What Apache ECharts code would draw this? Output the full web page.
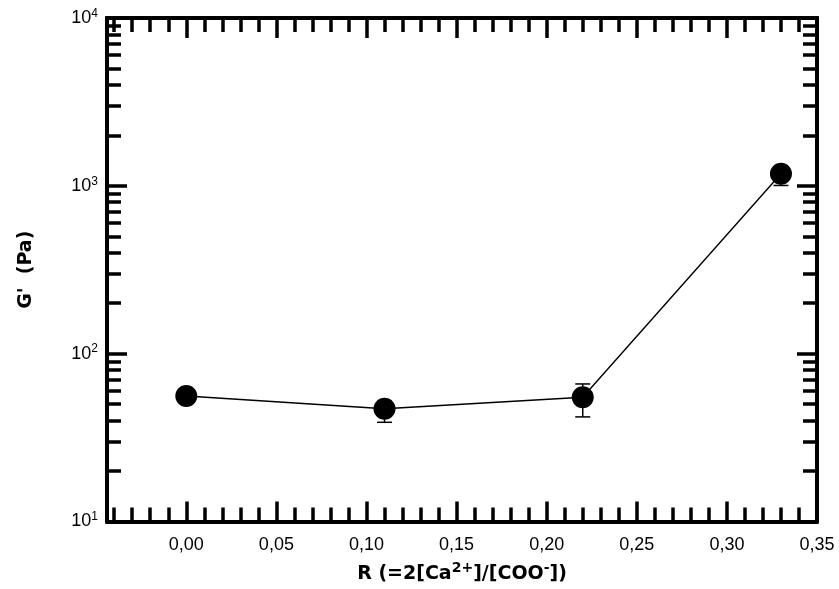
<!DOCTYPE html>
<html>
<head>
<meta charset="utf-8">
<script src="https://cdn.jsdelivr.net/npm/echarts@6/dist/echarts.min.js"></script>
<style>html,body{margin:0;padding:0;background:#fff}#c{width:839px;height:589px}</style>
</head>
<body>
<div id="c"></div>
<script>
// ---- data ----
var xValues = [0.00, 0.11, 0.22, 0.33];
var gValues = [56, 47, 55, 1180];
var errLow  = [56, 39, 42, 1005];
var errHigh = [56, 52, 66, 1290];

var xMajorTicks = [0.00, 0.05, 0.10, 0.15, 0.20, 0.25, 0.30, 0.35];
var xMinorTicks = [-0.04, -0.03, -0.02, -0.01, 0.01, 0.02, 0.03, 0.04, 0.06, 0.07, 0.08, 0.09,
                   0.11, 0.12, 0.13, 0.14, 0.16, 0.17, 0.18, 0.19, 0.21, 0.22, 0.23, 0.24,
                   0.26, 0.27, 0.28, 0.29, 0.31, 0.32, 0.33, 0.34];
var yMajorTicks = [10, 100, 1000, 10000];
var yMinorTicks = [20, 30, 40, 50, 60, 70, 80, 90,
                   200, 300, 400, 500, 600, 700, 800, 900,
                   2000, 3000, 4000, 5000, 6000, 7000, 8000, 9000];

var FONT = '"Liberation Sans", Arial, sans-serif';
var BFONT = '"DejaVu Sans", sans-serif';
var X_MIN = -0.044, X_MAX = 0.35, Y_MIN = 10, Y_MAX = 10000;

function lineStyle(w) { return { color: '#000', width: w }; }

function xAxisDef(pos, ticks, len, withLabels) {
  return {
    type: 'value', position: pos, min: X_MIN, max: X_MAX,
    axisLine: { show: true, onZero: false, lineStyle: lineStyle(4) },
    axisTick: { show: true, inside: true, length: len, customValues: ticks, lineStyle: lineStyle(3.5) },
    axisLabel: withLabels ? {
      show: true, customValues: xMajorTicks, margin: 15, color: '#000', fontFamily: FONT, fontSize: 18,
      formatter: function (v) { return v.toFixed(2).replace('.', ','); }
    } : { show: false },
    splitLine: { show: false }
  };
}
function yAxisDef(pos, ticks, len, withLabels) {
  return {
    type: 'log', logBase: 10, position: pos, min: Y_MIN, max: Y_MAX,
    axisLine: { show: true, onZero: false, lineStyle: lineStyle(4) },
    axisTick: { show: true, inside: true, length: len, customValues: ticks, lineStyle: lineStyle(3.5) },
    axisLabel: withLabels ? {
      show: true, customValues: yMajorTicks, margin: 9, color: '#000',
      formatter: function (v) { return '{a|10}{b|' + Math.round(Math.log10(v)) + '}'; },
      rich: {
        a: { fontFamily: FONT, fontSize: 18, color: '#000' },
        b: { fontFamily: FONT, fontSize: 12, color: '#000', padding: [0, 0, 9, 0] }
      }
    } : { show: false },
    splitLine: { show: false }
  };
}

var xa0 = xAxisDef('bottom', xMajorTicks, 20, true);
xa0.name = 'R (=2[Ca{s|2+}]/[COO{s|-}])';
xa0.nameLocation = 'middle';
xa0.nameGap = 40;
xa0.nameTextStyle = {
  fontFamily: BFONT, fontSize: 19, fontWeight: 'bold', color: '#000',
  rich: { s: { fontFamily: BFONT, fontSize: 14, fontWeight: 'bold', color: '#000', padding: [0, 0, 12, 0] } }
};
var ya0 = yAxisDef('left', yMajorTicks, 20, true);
ya0.name = "G'  (Pa)";
ya0.nameLocation = 'middle';
ya0.nameGap = 71;
ya0.nameTextStyle = { fontFamily: BFONT, fontSize: 19, fontWeight: 'bold', color: '#000' };

var errData = xValues.map(function (x, i) { return [x, errLow[i], errHigh[i]]; });
var ptData = xValues.map(function (x, i) { return [x, gValues[i]]; });

var chart = echarts.init(document.getElementById('c'), null, { renderer: 'canvas' });
chart.setOption({
  animation: false,
  backgroundColor: '#fff',
  grid: { left: 107, right: 22, top: 18, bottom: 59, containLabel: false },
  xAxis: [xa0, xAxisDef('bottom', xMinorTicks, 14, false), xAxisDef('top', xMajorTicks, 20, false), xAxisDef('top', xMinorTicks, 14, false)],
  yAxis: [ya0, yAxisDef('left', yMinorTicks, 14, false), yAxisDef('right', yMajorTicks, 20, false), yAxisDef('right', yMinorTicks, 14, false)],
  series: [
    {
      type: 'custom', xAxisIndex: 0, yAxisIndex: 0, z: 1, data: errData,
      renderItem: function (params, api) {
        var x = api.value(0);
        var lo = api.coord([x, api.value(1)]);
        var hi = api.coord([x, api.value(2)]);
        var hw = 7.5;
        var st = { stroke: '#000', lineWidth: 1.5 };
        return {
          type: 'group', children: [
            { type: 'line', shape: { x1: lo[0], y1: lo[1], x2: hi[0], y2: hi[1] }, style: st },
            { type: 'line', shape: { x1: lo[0] - hw, y1: lo[1], x2: lo[0] + hw, y2: lo[1] }, style: st },
            { type: 'line', shape: { x1: hi[0] - hw, y1: hi[1], x2: hi[0] + hw, y2: hi[1] }, style: st }
          ]
        };
      }
    },
    {
      type: 'line', xAxisIndex: 0, yAxisIndex: 0, z: 2, data: ptData,
      symbol: 'circle', symbolSize: 22,
      lineStyle: { color: '#000', width: 1.4 },
      itemStyle: { color: '#000' }
    }
  ]
});
</script>
</body>
</html>
